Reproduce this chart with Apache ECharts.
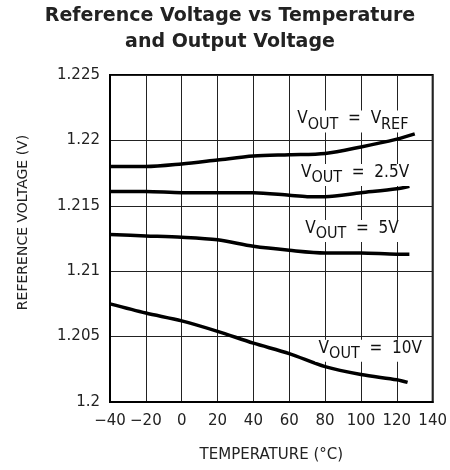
<!DOCTYPE html>
<html>
<head>
<meta charset="utf-8">
<script src="https://cdn.jsdelivr.net/npm/echarts@6/dist/echarts.min.js"></script>
<style>
  html, body { margin: 0; padding: 0; background: #fff; }
  #main { width: 450px; height: 470px; }
</style>
</head>
<body>
<div id="main"></div>
<script>
// curves (temperature in C, voltage in V)
const vrefTemp = [-40, -20, 0, 20, 40, 60, 80, 100, 120, 130]
const vrefVolt = [1.2180, 1.2180, 1.2182, 1.2185, 1.2188, 1.2189, 1.2190, 1.2195, 1.2201, 1.2205]

const v25Temp = [-40, -20, 0, 20, 40, 60, 70, 80, 100, 120, 127]
const v25Volt = [1.2161, 1.2161, 1.2160, 1.2160, 1.2160, 1.2158, 1.2157, 1.2157, 1.2160, 1.2163, 1.2165]

const v5Temp = [-40, -20, 0, 20, 40, 60, 80, 100, 120, 127]
const v5Volt = [1.2128, 1.2127, 1.2126, 1.2124, 1.2119, 1.2116, 1.2114, 1.2114, 1.2113, 1.2113]

const v10Temp = [-40, -20, 0, 20, 40, 60, 80, 100, 120, 126]
const v10Volt = [1.2075, 1.2068, 1.2062, 1.2054, 1.2045, 1.2037, 1.2027, 1.2021, 1.2017, 1.2015]

// curve labels: [rich text, temp, volt]
const curveLabels = [
  ['{h| }{v|V}{s|OUT}{v|  =  V}{s|REF}', 95.4, 1.22145],
  ['{h| }{v|V}{s|OUT}{v|  =  2.5V}', 96.6, 1.21735],
  ['{h| }{v|V}{s|OUT}{v|  =  5V}', 94.9, 1.21307],
  ['{h| }{v|V}{s|OUT}{v|  =  10V}', 105.1, 1.20392]
]

const font = 'DejaVu Sans'
const labelFont = '"DejaVu Sans Condensed", "DejaVu Sans"'

const pairs = (xs, ys) => xs.map((x, i) => [x, ys[i]])

const makeSeries = (name, data, lab) => ({
  name: name,
  type: 'line',
  smooth: 0.3,
  symbol: 'none',
  data: data,
  lineStyle: { color: '#000', width: 3.5 },
  z: 3,
  markPoint: {
    symbol: 'circle',
    symbolSize: 1,
    itemStyle: { color: 'rgba(0,0,0,0)' },
    z: 5,
    label: {
      show: true,
      position: 'inside',
      formatter: lab[0],
      backgroundColor: '#fff',
      padding: [0, 3, 0, 3],
      rich: {
        h: { fontSize: 1, lineHeight: 22 },
        v: { fontFamily: labelFont, fontSize: 17, lineHeight: 16, verticalAlign: 'top', color: '#111' },
        s: { fontFamily: labelFont, fontSize: 16, lineHeight: 15, verticalAlign: 'bottom', color: '#111' }
      }
    },
    data: [{ coord: [lab[1], lab[2]] }]
  }
})

const myChart = echarts.init(document.getElementById('main'))
const option = {
  animation: false,
  title: {
    text: 'Reference Voltage vs Temperature\nand Output Voltage',
    left: 230,
    top: 3,
    textAlign: 'center',
    padding: 0,
    textStyle: {
      fontFamily: 'DejaVu Sans',
      fontWeight: 'bold',
      fontSize: 19,
      lineHeight: 26,
      color: '#222'
    }
  },
  grid: {
    left: 110,
    right: 17,
    top: 75,
    bottom: 68,
    show: true,
    borderColor: '#000',
    borderWidth: 2
  },
  xAxis: {
    type: 'value',
    min: -40,
    max: 140,
    interval: 20,
    name: 'TEMPERATURE (\u00B0C)',
    nameLocation: 'middle',
    nameGap: 46,
    nameTextStyle: { fontFamily: font, fontSize: 15, color: '#222' },
    axisLine: { show: true, onZero: false, lineStyle: { color: '#000', width: 2 } },
    axisTick: { show: false },
    axisLabel: {
      fontFamily: font,
      fontSize: 15,
      color: '#222',
      margin: 12,
      formatter: v => String(v).replace('-', '\u2212')
    },
    splitLine: { show: true, lineStyle: { color: '#222', width: 1 } }
  },
  yAxis: {
    type: 'value',
    min: 1.2,
    max: 1.225,
    interval: 0.005,
    name: 'REFERENCE VOLTAGE (V)',
    nameLocation: 'middle',
    nameGap: 80,
    nameTextStyle: { fontFamily: font, fontSize: 14, color: '#222', padding: [0, 0, 0, 32] },
    axisLine: { show: true, onZero: false, lineStyle: { color: '#000', width: 2 } },
    axisTick: { show: false },
    axisLabel: {
      fontFamily: font,
      fontSize: 15,
      color: '#222',
      margin: 10,
      formatter: v => String(+v.toFixed(3))
    },
    splitLine: { show: true, lineStyle: { color: '#222', width: 1 } }
  },
  series: [
    makeSeries('VREF', pairs(vrefTemp, vrefVolt), curveLabels[0]),
    makeSeries('2.5V', pairs(v25Temp, v25Volt), curveLabels[1]),
    makeSeries('5V', pairs(v5Temp, v5Volt), curveLabels[2]),
    makeSeries('10V', pairs(v10Temp, v10Volt), curveLabels[3])
  ]
}
option && myChart.setOption(option)
</script>
</body>
</html>
